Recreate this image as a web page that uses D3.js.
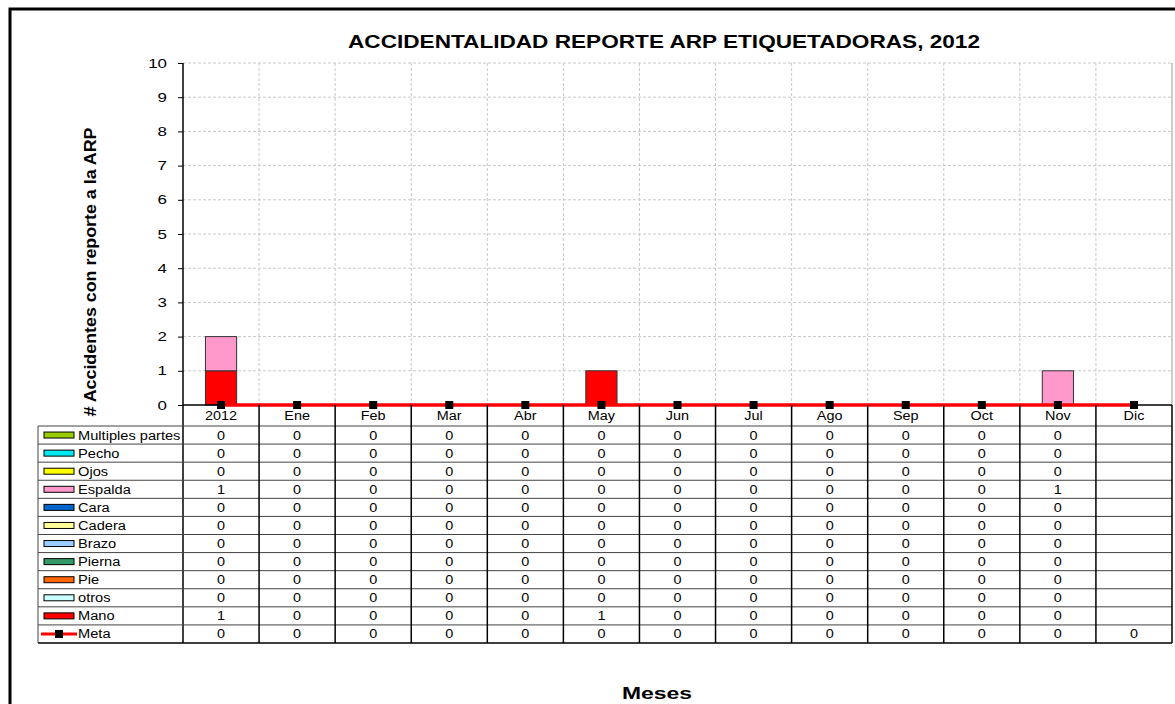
<!DOCTYPE html>
<html lang="es">
<head>
<meta charset="UTF-8">
<title>Accidentalidad ARP</title>
<script src="https://d3js.org/d3.v7.min.js"></script>
<style>
  body { margin: 0; background: #fff; }
  svg { display: block; font-family: "Liberation Sans", Arial, sans-serif; }
  .grid line { stroke: #c8c8c8; stroke-dasharray: 3,2; }
  .tbl text { font-size: 12px; }
</style>
</head>
<body>
<div id="chart"></div>
<script>
// categories and series (top-to-bottom as listed in the data table)
const categories = ['2012','Ene','Feb','Mar','Abr','May','Jun','Jul','Ago','Sep','Oct','Nov','Dic'];
const multiplesPartes = [0,0,0,0,0,0,0,0,0,0,0,0,null];
const pecho   = [0,0,0,0,0,0,0,0,0,0,0,0,null];
const ojos    = [0,0,0,0,0,0,0,0,0,0,0,0,null];
const espalda = [1,0,0,0,0,0,0,0,0,0,0,1,null];
const cara    = [0,0,0,0,0,0,0,0,0,0,0,0,null];
const cadera  = [0,0,0,0,0,0,0,0,0,0,0,0,null];
const brazo   = [0,0,0,0,0,0,0,0,0,0,0,0,null];
const pierna  = [0,0,0,0,0,0,0,0,0,0,0,0,null];
const pie     = [0,0,0,0,0,0,0,0,0,0,0,0,null];
const otros   = [0,0,0,0,0,0,0,0,0,0,0,0,null];
const mano    = [1,0,0,0,0,1,0,0,0,0,0,0,null];
const meta    = [0,0,0,0,0,0,0,0,0,0,0,0,0];
const yTicks  = [0,1,2,3,4,5,6,7,8,9,10];

const barSeries = [
  { name: 'Multiples partes', values: multiplesPartes, color: '#99cc00' },
  { name: 'Pecho', values: pecho, color: '#00e8f0' },
  { name: 'Ojos', values: ojos, color: '#ffff00' },
  { name: 'Espalda', values: espalda, color: '#ff99cc' },
  { name: 'Cara', values: cara, color: '#0066cc' },
  { name: 'Cadera', values: cadera, color: '#ffff99' },
  { name: 'Brazo', values: brazo, color: '#99ccff' },
  { name: 'Pierna', values: pierna, color: '#339966' },
  { name: 'Pie', values: pie, color: '#ff6600' },
  { name: 'otros', values: otros, color: '#ccffff' },
  { name: 'Mano', values: mano, color: '#ff0000' }
];

const width = 1175, height = 704;
const plot = { left: 183, right: 1172, top: 63, bottom: 405 };
const tableLeft = 38, tableTop = 426, tableBottom = 643;
const wide = 1.17; // the reference text is drawn wider than plain Arial

// widen text horizontally, like the original rendering
function stretch(sel, k) {
  sel.each(function () {
    const w = this.getComputedTextLength();
    d3.select(this).attr('textLength', w * k).attr('lengthAdjust', 'spacingAndGlyphs');
  });
}

const svg = d3.select('#chart').append('svg')
  .attr('width', width).attr('height', height);

// outer frame (extends past the right and bottom edges)
svg.append('rect')
  .attr('x', 10).attr('y', 9).attr('width', 1200).attr('height', 720)
  .attr('fill', 'none').attr('stroke', '#000').attr('stroke-width', 3);

const x = d3.scaleBand().domain(categories).range([plot.left, plot.right]);
const y = d3.scaleLinear().domain([0, 10]).range([plot.bottom, plot.top]);

// gridlines
const grid = svg.append('g').attr('class', 'grid');
grid.selectAll('.h').data(yTicks.filter(d => d > 0)).join('line')
  .attr('x1', plot.left).attr('x2', plot.right)
  .attr('y1', d => y(d)).attr('y2', d => y(d));
grid.selectAll('.v').data(categories.slice(1)).join('line')
  .attr('x1', d => x(d)).attr('x2', d => x(d))
  .attr('y1', plot.top).attr('y2', plot.bottom);
svg.append('line')
  .attr('x1', plot.right).attr('x2', plot.right)
  .attr('y1', plot.top).attr('y2', plot.bottom)
  .attr('stroke', '#999');

// stacked bars: Mano at the bottom
const stackOrder = barSeries.slice().reverse();
const stackData = categories.map((c, i) => {
  const row = { cat: c };
  stackOrder.forEach(s => { row[s.name] = s.values[i] || 0; });
  return row;
});
const stacked = d3.stack().keys(stackOrder.map(s => s.name))(stackData);
const barW = x.bandwidth() * 0.41;
stacked.forEach((layer, li) => {
  svg.append('g').selectAll('rect')
    .data(layer.filter(d => d[1] - d[0] > 0))
    .join('rect')
    .attr('x', d => x(d.data.cat) + (x.bandwidth() - barW) / 2)
    .attr('width', barW)
    .attr('y', d => y(d[1]))
    .attr('height', d => y(d[0]) - y(d[1]))
    .attr('fill', stackOrder[li].color)
    .attr('stroke', '#333').attr('stroke-width', 1);
});

// y axis
const yAxis = svg.append('g')
  .attr('transform', `translate(${plot.left},0)`)
  .call(d3.axisLeft(y).tickValues(yTicks).tickSize(5).tickSizeOuter(0));
yAxis.select('.domain').remove();
yAxis.selectAll('text').attr('font-size', 13).attr('fill', '#000').attr('x', -16)
  .attr('font-family', '"Liberation Sans", Arial, sans-serif')
  .call(stretch, 1.3);
yAxis.selectAll('line').attr('stroke', '#000');
svg.append('line')
  .attr('x1', plot.left).attr('x2', plot.left)
  .attr('y1', plot.top).attr('y2', tableBottom)
  .attr('stroke', '#000').attr('stroke-width', 1.5);

// x axis baseline
svg.append('line')
  .attr('x1', plot.left).attr('x2', plot.right)
  .attr('y1', plot.bottom).attr('y2', plot.bottom)
  .attr('stroke', '#000').attr('stroke-width', 1.5);

// meta line
const line = d3.line()
  .x((d, i) => x(categories[i]) + x.bandwidth() / 2)
  .y(d => y(d));
svg.append('path').datum(meta)
  .attr('d', line).attr('fill', 'none')
  .attr('stroke', '#ff0000').attr('stroke-width', 3.5);
svg.append('g').selectAll('rect').data(meta).join('rect')
  .attr('x', (d, i) => x(categories[i]) + x.bandwidth() / 2 - 4)
  .attr('y', d => y(d) - 4)
  .attr('width', 8).attr('height', 8).attr('fill', '#000');

// category label row
svg.append('g').selectAll('text').data(categories).join('text')
  .attr('x', d => x(d) + x.bandwidth() / 2)
  .attr('y', 420)
  .attr('text-anchor', 'middle').attr('font-size', 12)
  .text(d => d)
  .call(stretch, 1.2);

// data table
const tableRows = barSeries.map(s => ({ name: s.name, values: s.values, color: s.color }))
  .concat([{ name: 'Meta', values: meta, color: null }]);
const rowH = (tableBottom - tableTop) / tableRows.length;
const tbl = svg.append('g').attr('class', 'tbl');

tableRows.forEach((r, ri) => {
  const ry = tableTop + ri * rowH;
  tbl.append('line')
    .attr('x1', tableLeft).attr('x2', plot.right)
    .attr('y1', ry).attr('y2', ry)
    .attr('stroke', '#444').attr('stroke-width', 1);
  // legend key
  if (r.color) {
    tbl.append('rect')
      .attr('x', 44).attr('y', ry + rowH / 2 - 3)
      .attr('width', 30).attr('height', 6)
      .attr('fill', r.color).attr('stroke', '#000').attr('stroke-width', 1);
  } else {
    tbl.append('line')
      .attr('x1', 41).attr('x2', 77)
      .attr('y1', ry + rowH / 2).attr('y2', ry + rowH / 2)
      .attr('stroke', '#ff0000').attr('stroke-width', 3);
    tbl.append('rect')
      .attr('x', 55).attr('y', ry + rowH / 2 - 4)
      .attr('width', 8).attr('height', 8).attr('fill', '#000');
  }
  tbl.append('text')
    .attr('x', 78).attr('y', ry + rowH / 2 + 4.5)
    .style('font-size', '12.5px')
    .text(r.name)
    .call(stretch, wide);
  r.values.forEach((v, i) => {
    if (v === null) return;
    tbl.append('text')
      .attr('x', x(categories[i]) + x.bandwidth() / 2)
      .attr('y', ry + rowH / 2 + 4.5)
      .attr('text-anchor', 'middle')
      .text(v)
      .call(stretch, 1.2);
  });
});
tbl.append('line')
  .attr('x1', tableLeft).attr('x2', plot.right)
  .attr('y1', tableBottom).attr('y2', tableBottom)
  .attr('stroke', '#000').attr('stroke-width', 1.5);
tbl.append('line')
  .attr('x1', tableLeft).attr('x2', tableLeft)
  .attr('y1', tableTop).attr('y2', tableBottom)
  .attr('stroke', '#444');
tbl.selectAll('.col').data(categories.slice(1).concat(['end'])).join('line')
  .attr('x1', d => d === 'end' ? plot.right : x(d))
  .attr('x2', d => d === 'end' ? plot.right : x(d))
  .attr('y1', plot.bottom).attr('y2', tableBottom)
  .attr('stroke', '#000').attr('stroke-width', 1.5);

// titles
svg.append('text')
  .attr('x', 664).attr('y', 48)
  .attr('text-anchor', 'middle')
  .attr('font-size', 17.5).attr('font-weight', 'bold')
  .attr('textLength', 632).attr('lengthAdjust', 'spacingAndGlyphs')
  .text('ACCIDENTALIDAD REPORTE ARP ETIQUETADORAS, 2012');

svg.append('text')
  .attr('transform', 'rotate(-90)')
  .attr('x', -272).attr('y', 96)
  .attr('text-anchor', 'middle')
  .attr('font-size', 17).attr('font-weight', 'bold')
  .attr('textLength', 289).attr('lengthAdjust', 'spacingAndGlyphs')
  .text('# Accidentes con reporte a la ARP');

svg.append('text')
  .attr('x', 657).attr('y', 699)
  .attr('text-anchor', 'middle')
  .attr('font-size', 16).attr('font-weight', 'bold')
  .attr('textLength', 70).attr('lengthAdjust', 'spacingAndGlyphs')
  .text('Meses');
</script>
</body>
</html>
